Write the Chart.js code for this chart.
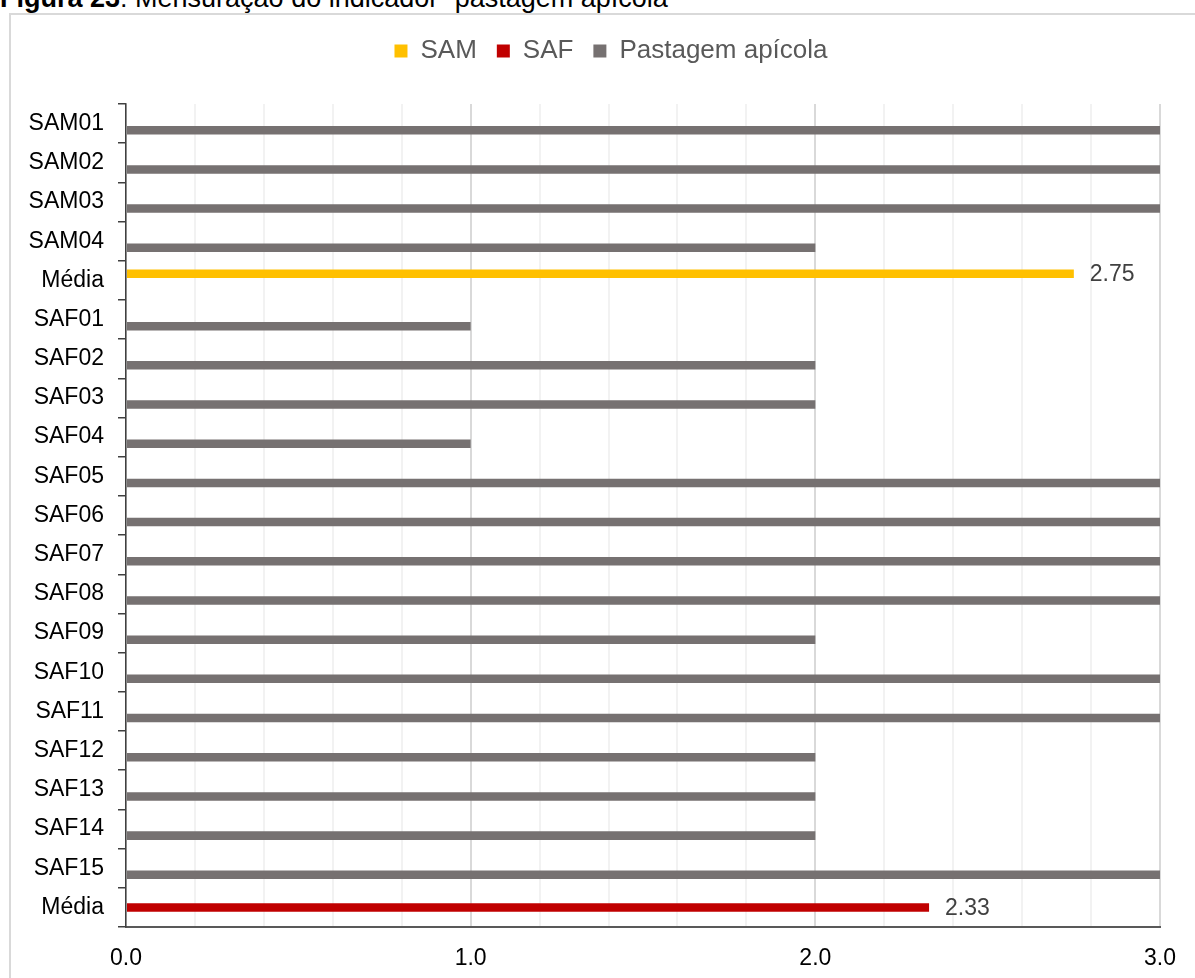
<!DOCTYPE html>
<html lang="pt">
<head>
<meta charset="utf-8">
<title>Pastagem apícola</title>
<script src="https://cdn.jsdelivr.net/npm/chart.js@4.4.1/dist/chart.umd.min.js"></script>
<style>
  html, body { margin: 0; padding: 0; background: #fff; overflow: hidden; }
  body { width: 1195px; height: 978px; position: relative; }
  #frame {
    position: absolute; left: 9px; top: 13px; width: 1300px; height: 1100px;
    border-left: 2px solid #d9d9d9; border-top: 2px solid #d9d9d9;
  }
  #caption {
    position: absolute; left: 0; top: -15px; white-space: nowrap;
    font: 27px/27px 'Liberation Sans', Arial, sans-serif; color: #000;
  }
  #caption b { font-weight: bold; }
  #wrap { position: absolute; left: 0; top: 0; width: 1195px; height: 978px; }
</style>
</head>
<body>
<div id="frame"></div>
<div id="caption"><b>Figura 23</b>: Mensuração do indicador “pastagem apícola”</div>
<div id="wrap"><canvas id="chart" width="1195" height="978"></canvas></div>
<script>
// Categories, top to bottom
const categories = ['SAM01', 'SAM02', 'SAM03', 'SAM04', 'Média',
  'SAF01', 'SAF02', 'SAF03', 'SAF04', 'SAF05', 'SAF06', 'SAF07', 'SAF08',
  'SAF09', 'SAF10', 'SAF11', 'SAF12', 'SAF13', 'SAF14', 'SAF15', 'Média'];

// Indicator scores per system
const samScores = [3, 3, 3, 2];
const safScores = [1, 2, 2, 1, 3, 3, 3, 3, 2, 3, 3, 2, 2, 2, 3];

// Group means
const samMean = 2.75;
const safMean = 2.33;

// Labelled ticks on the value axis
const xTickValues = [0, 1, 2, 3];

const seriesNames = ['SAM', 'SAF', 'Pastagem apícola'];
const seriesColors = ['#FFC000', '#C00000', '#767171'];

const FONT = "'Liberation Sans', Arial, sans-serif";
Chart.defaults.font.family = FONT;

// Build the per-category arrays from the groups above
const nSam = samScores.length;
const nSaf = safScores.length;
const pastagemData = [...samScores, null, ...safScores, null];
const samData = categories.map((_, i) => (i === nSam ? samMean : null));
const safData = categories.map((_, i) => (i === nSam + 1 + nSaf ? safMean : null));

// Value labels to the right of the mean bars
const meanLabels = {
  id: 'meanLabels',
  afterDatasetsDraw(chart) {
    const ctx = chart.ctx;
    ctx.save();
    ctx.font = '23px ' + FONT;
    ctx.fillStyle = '#404040';
    ctx.textAlign = 'left';
    ctx.textBaseline = 'middle';
    [0, 1].forEach(di => {
      const meta = chart.getDatasetMeta(di);
      meta.data.forEach((el, i) => {
        const v = chart.data.datasets[di].data[i];
        if (v === null || v === undefined) return;
        ctx.fillText(v.toFixed(2), el.x + 16, el.y + 1);
      });
    });
    ctx.restore();
  }
};

// Extra space between the legend and the plot, and a small shift of the legend to the right
const legendPlacement = {
  id: 'legendPlacement',
  afterInit(chart) {
    const legend = chart.legend;
    if (!legend) return;
    const fit = legend.fit;
    legend.fit = function () {
      fit.call(this);
      this.height += 30;
    };
  },
  afterLayout(chart) {
    const legend = chart.legend;
    if (!legend) return;
    legend.left += 21;
    legend.right += 21;
  }
};

new Chart(document.getElementById('chart'), {
  type: 'bar',
  data: {
    labels: categories,
    datasets: [
      { label: seriesNames[0], data: samData, backgroundColor: seriesColors[0], borderWidth: 0 },
      { label: seriesNames[1], data: safData, backgroundColor: seriesColors[1], borderWidth: 0 },
      { label: seriesNames[2], data: pastagemData, backgroundColor: seriesColors[2], borderWidth: 0 }
    ]
  },
  options: {
    indexAxis: 'y',
    responsive: false,
    animation: false,
    categoryPercentage: 0.505,
    barPercentage: 1.29,
    layout: { padding: { top: 18, left: 20, right: 35, bottom: 0 } },
    plugins: {
      legend: {
        position: 'top',
        align: 'center',
        labels: {
          boxWidth: 13,
          boxHeight: 13,
          padding: 20,
          color: '#595959',
          font: { size: 26, family: FONT }
        }
      },
      tooltip: { enabled: false }
    },
    scales: {
      x: {
        type: 'linear',
        min: 0,
        max: 3,
        afterFit(scale) { scale.height = 51; },
        ticks: {
          stepSize: 0.2,
          autoSkip: false,
          maxRotation: 0,
          padding: 18,
          color: '#000',
          font: { size: 23, family: FONT },
          callback(v) {
            const r = Math.round(v);
            return (Math.abs(v - r) < 1e-6 && xTickValues.includes(r)) ? r.toFixed(1) : '';
          }
        },
        grid: {
          drawTicks: false,
          lineWidth: 2,
          color(ctx) {
            const v = ctx.tick ? ctx.tick.value : 0;
            return Math.abs(v - Math.round(v)) < 1e-6 ? '#d9d9d9' : '#f2f2f2';
          }
        },
        border: { display: true, color: '#595959', width: 2 }
      },
      y: {
        type: 'category',
        afterFit(scale) { scale.width = 106; },
        ticks: {
          padding: 14,
          color: '#000',
          font: { size: 23, family: FONT }
        },
        grid: {
          offset: true,
          drawOnChartArea: false,
          drawTicks: true,
          tickLength: 8,
          lineWidth: 1.5,
          color: '#404040'
        },
        border: { display: true, color: '#404040', width: 1.5 }
      }
    }
  },
  plugins: [meanLabels, legendPlacement]
});
</script>
</body>
</html>
